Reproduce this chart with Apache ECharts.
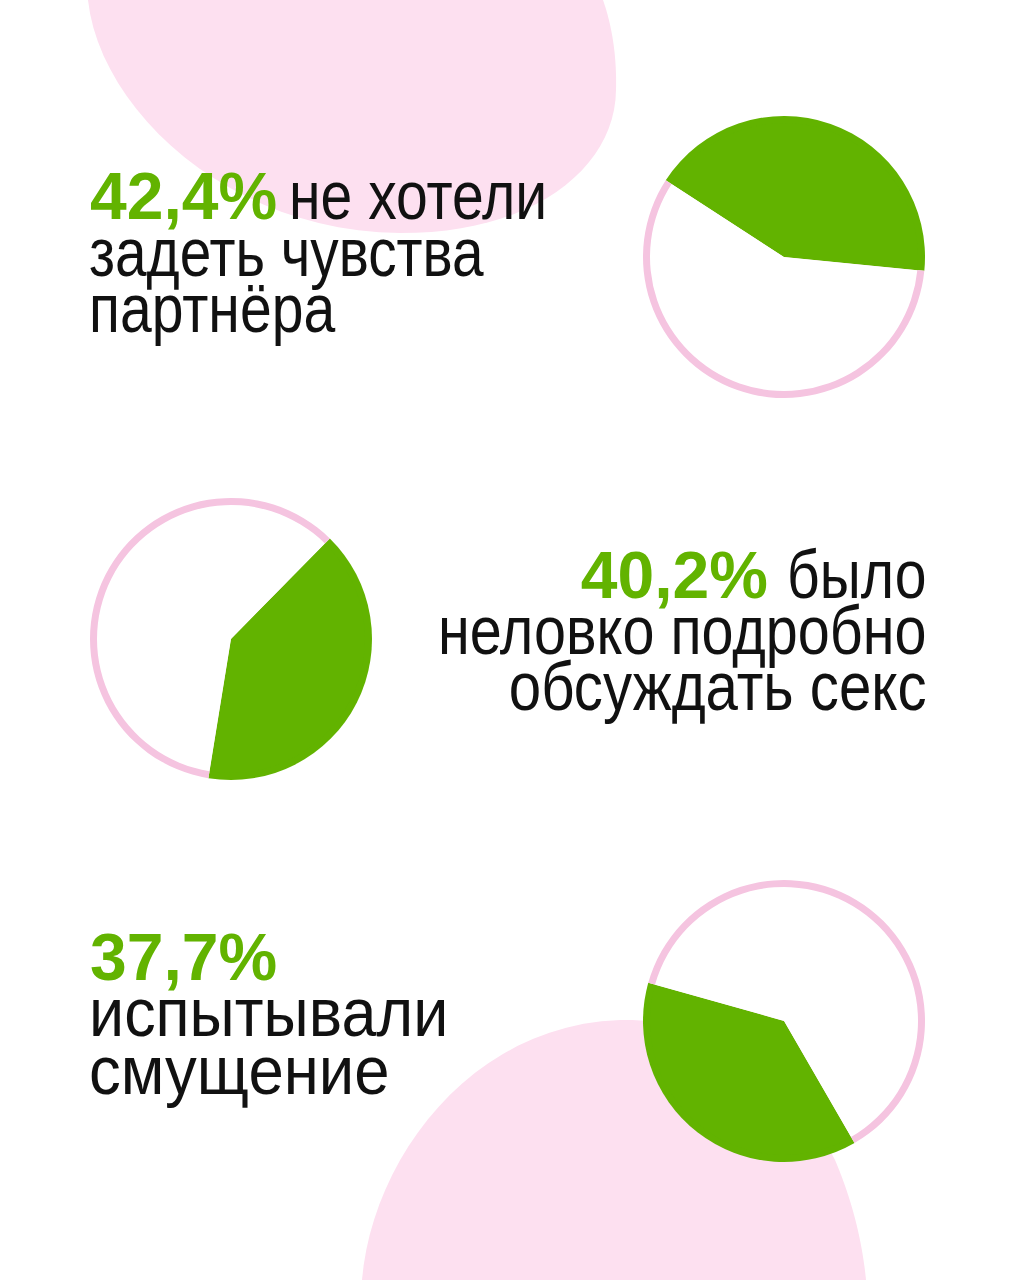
<!DOCTYPE html>
<html><head><meta charset="utf-8">
<script src="https://cdn.jsdelivr.net/npm/echarts@6/dist/echarts.min.js"></script>
<style>html,body{margin:0;padding:0;background:#fff}#c{width:1024px;height:1280px}</style>
</head><body><div id="c"></div>
<script>
// ---- data ----
const percentShares = [42.4, 40.2, 37.7];
const restShares = [57.6, 59.8, 62.3];
const captionLine1 = ['не хотели', 'было', ''];
const captionLine2 = ['задеть чувства', 'неловко подробно', 'испытывали'];
const captionLine3 = ['партнёра', 'обсуждать секс', 'смущение'];

// ---- style / layout ----
const GREEN = '#62b300';
const RING = '#f5c4e0';
const BLOB = '#fde0f0';
const INK = '#111111';
const FONT = '"Liberation Sans", Arial, Helvetica, sans-serif';
const pieCenters = [[784, 257], [231, 639], [784, 1021]];
const pieStart = [147, 45.5, 300];
const OUTER = 141, INNER = 134;
const LH = 54;
const REG = 68, BOLD = 66;
// per-line horizontal condensing of the caption lines [line1, line2, line3]
const lineScale = [[0.84, 0.835, 0.84], [0.84, 0.846, 0.856], [0.84, 0.925, 0.934]];
// block anchors: percent x, caption line-1 x, caption x, align, tops
const blockLayout = [
  {pctX: 90,  cap1X: 289,   capX: 89,    align: 'left',  pctTop: 168.9, tops: [168.1, 225.1, 281.1]},
  {pctX: 768, cap1X: 926.5, capX: 926.5, align: 'right', pctTop: 547.9, tops: [547.1, 603.1, 659.1]},
  {pctX: 90,  cap1X: 89,    capX: 89,    align: 'left',  pctTop: 929.9, tops: [929.1, 986.1, 1043.1]}
];

const fmt = v => v.toFixed(1).replace('.', ',') + '%';

const series = [];
percentShares.forEach((v, i) => {
  const base = {
    type: 'pie', center: pieCenters[i], startAngle: pieStart[i], clockwise: true,
    silent: true, animation: false, label: {show: false}, labelLine: {show: false},
    avoidLabelOverlap: false
  };
  series.push(Object.assign({}, base, {
    radius: OUTER, z: 2,
    itemStyle: {borderWidth: 0},
    data: [{value: v, itemStyle: {color: GREEN}}, {value: restShares[i], itemStyle: {color: RING}}]
  }));
  series.push(Object.assign({}, base, {
    radius: INNER, z: 3,
    itemStyle: {borderWidth: 0},
    data: [{value: v, itemStyle: {color: GREEN}}, {value: restShares[i], itemStyle: {color: '#ffffff'}}]
  }));
});

// decorative blob outlines (cubic bezier segments sampled to polygons)
function bez(segs) {
  const pts = [];
  segs.forEach(s => {
    for (let k = 0; k <= 24; k++) {
      const t = k / 24, u = 1 - t;
      pts.push([
        u*u*u*s[0][0] + 3*u*u*t*s[1][0] + 3*u*t*t*s[2][0] + t*t*t*s[3][0],
        u*u*u*s[0][1] + 3*u*u*t*s[1][1] + 3*u*t*t*s[2][1] + t*t*t*s[3][1]
      ]);
    }
  });
  return pts;
}
const topBlob = bez([
  [[88,0],[100,110],[230,232],[400,233]],
  [[400,233],[530,234],[615,170],[616,90]],
  [[616,90],[617,50],[610,20],[603,0]]
]);
const bottomBlob = bez([
  [[362,1280],[372,1160],[470,1025],[620,1020]],
  [[620,1020],[720,1017],[800,1090],[835,1160]],
  [[835,1160],[852,1200],[862,1240],[866,1280]]
]);

const graphic = [
  {type: 'polygon', z: 0, silent: true, shape: {points: topBlob}, style: {fill: BLOB}},
  {type: 'polygon', z: 0, silent: true, shape: {points: bottomBlob}, style: {fill: BLOB}}
];
percentShares.forEach((v, i) => {
  const L = blockLayout[i];
  graphic.push({type: 'text', z: 10, x: L.pctX, y: L.pctTop, silent: true,
    style: {text: fmt(v), fontFamily: FONT, fontWeight: 'bold', fontSize: BOLD,
            fill: GREEN, align: L.align, verticalAlign: 'top', lineHeight: LH}});
  const lines = [captionLine1[i], captionLine2[i], captionLine3[i]];
  lines.forEach((t, k) => {
    if (!t) return;
    graphic.push({type: 'text', z: 10, x: k === 0 ? L.cap1X : L.capX, y: L.tops[k],
      scaleX: lineScale[i][k], silent: true,
      style: {text: t, fontFamily: FONT, fontWeight: 'normal', fontSize: REG,
              fill: INK, align: L.align, verticalAlign: 'top', lineHeight: LH}});
  });
});

const chart = echarts.init(document.getElementById('c'), null, {renderer: 'svg'});
chart.setOption({backgroundColor: '#ffffff', animation: false, series: series, graphic: graphic});
</script></body></html>
